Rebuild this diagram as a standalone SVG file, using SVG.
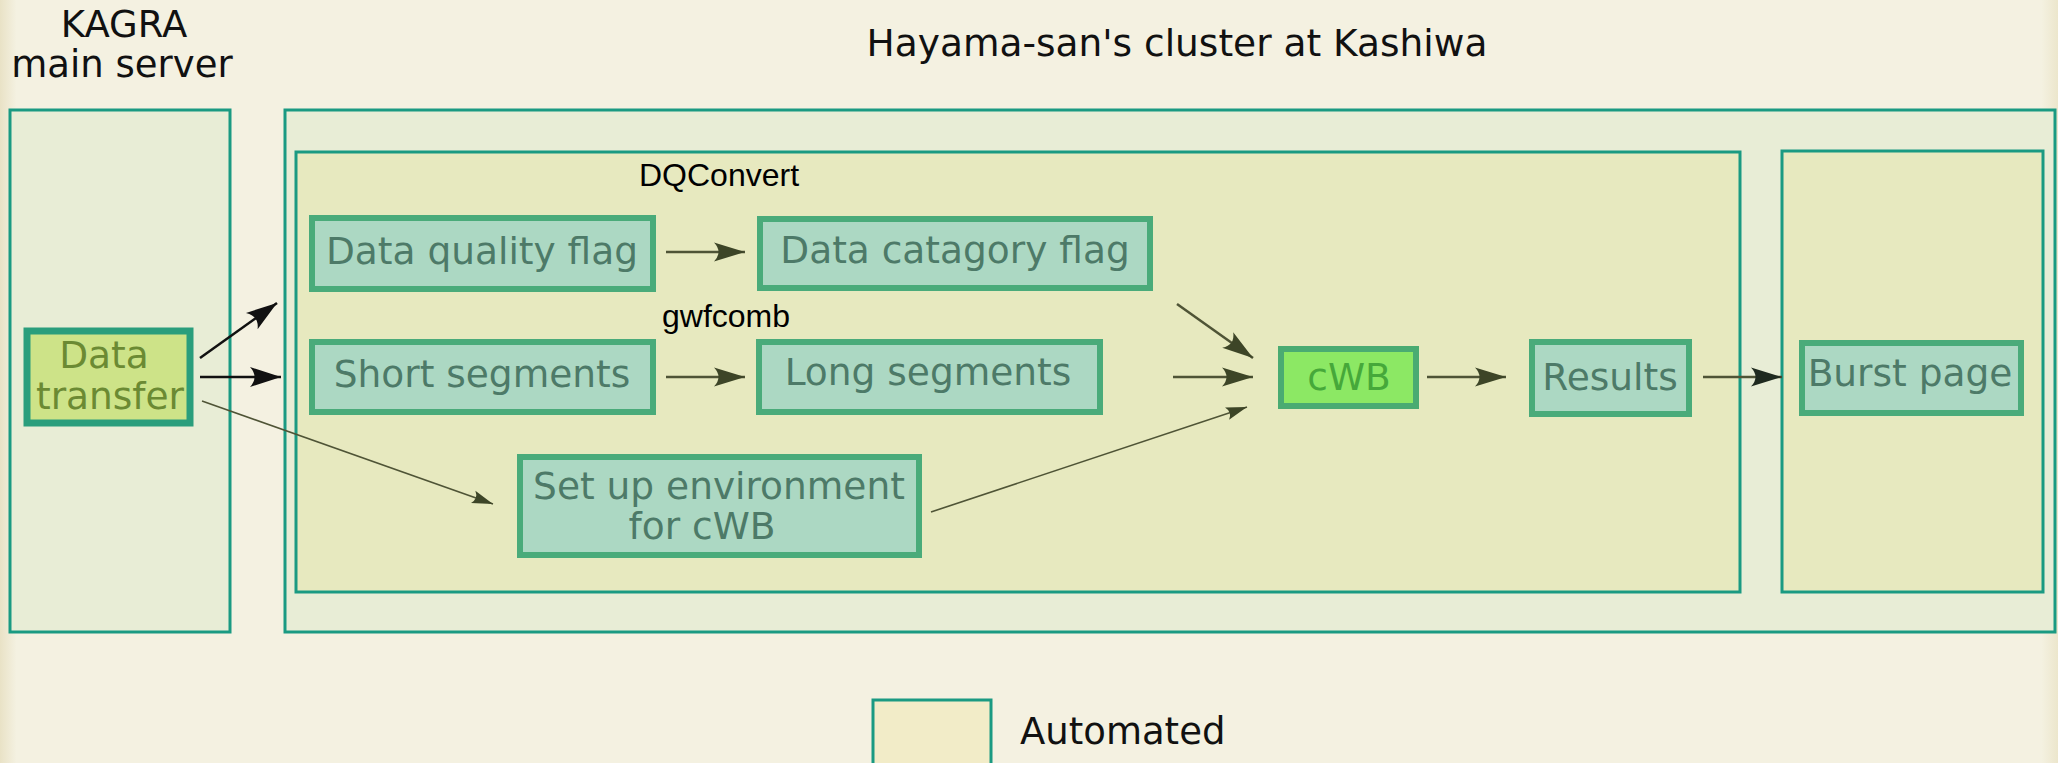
<svg xmlns="http://www.w3.org/2000/svg" width="2058" height="763" viewBox="0 0 2058 763">
<defs>
<style>
.bg-text{font-family:"DejaVu Sans",sans-serif;font-size:37px;fill:#111}
.lbl{font-family:"DejaVu Sans",sans-serif;font-size:37.5px;fill:#4d7a68;text-anchor:middle}
.tag{font-family:"Liberation Sans",Arial,sans-serif;font-size:32px;fill:#000}
.cont{stroke:#1a9a82;stroke-width:3}
.outer{fill:#e8edd6}
.inner{fill:#e7e9bf}
.node{fill:#acd8c3;stroke:#4aab7a;stroke-width:6}
.blk{stroke:#111;stroke-width:2.5;fill:none}
.olv{stroke:#4f5436;stroke-width:2.5;fill:none}
.thin{stroke:#4f5436;stroke-width:1.6;fill:none}
</style>
<linearGradient id="bgg" x1="0" y1="0" x2="1" y2="0">
<stop offset="0" stop-color="#e9e2c6"/>
<stop offset="0.008" stop-color="#f4f1e1"/>
<stop offset="0.992" stop-color="#f4f1e1"/>
<stop offset="1" stop-color="#ece6cc"/>
</linearGradient>
<marker id="ahB" markerUnits="userSpaceOnUse" markerWidth="40" markerHeight="30" refX="0" refY="0" viewBox="-32 -15 40 30" orient="auto" overflow="visible">
<path d="M0,0 L-31,-10 Q-22,0 -31,10 Z" fill="#111"/>
</marker>
<marker id="ahO" markerUnits="userSpaceOnUse" markerWidth="40" markerHeight="30" refX="0" refY="0" viewBox="-32 -15 40 30" orient="auto" overflow="visible">
<path d="M0,0 L-31,-9.5 Q-22,0 -31,9.5 Z" fill="#3d4527"/>
</marker>
<marker id="ahT" markerUnits="userSpaceOnUse" markerWidth="30" markerHeight="20" refX="0" refY="0" viewBox="-24 -10 30 20" orient="auto" overflow="visible">
<path d="M0,0 L-21,-6.5 Q-15.5,0 -21,6.5 Z" fill="#3d4527"/>
</marker>
<marker id="ahD" markerUnits="userSpaceOnUse" markerWidth="40" markerHeight="30" refX="0" refY="0" viewBox="-32 -15 40 30" orient="auto" overflow="visible">
<path d="M0,0 L-31,-9.5 Q-22,0 -31,9.5 Z" fill="#1f2a1f"/>
</marker>
</defs>

<rect x="0" y="0" width="2058" height="763" fill="url(#bgg)"/>

<g id="headings">
<text class="bg-text" x="124" y="37" text-anchor="middle">KAGRA</text>
<text class="bg-text" x="122" y="77" text-anchor="middle">main server</text>
<text class="bg-text" x="1177" y="56" text-anchor="middle" style="font-size:37.5px">Hayama-san's cluster at Kashiwa</text>
</g>

<g id="containers">
<rect id="kagra-box" class="cont outer" x="10" y="110" width="220" height="522"/>
<rect id="cluster-box" class="cont outer" x="285" y="110" width="1770" height="522"/>
<rect id="proc-box" class="cont inner" x="296" y="152" width="1444" height="440"/>
<rect id="burst-box" class="cont inner" x="1782" y="151" width="261" height="441"/>
</g>

<g id="labels">
<text class="tag" x="639" y="186">DQConvert</text>
<text class="tag" x="662" y="327">gwfcomb</text>
</g>

<g id="connectors">
<line class="blk" x1="200" y1="358" x2="277" y2="303" marker-end="url(#ahB)"/>
<line class="blk" x1="200" y1="377" x2="281" y2="377" marker-end="url(#ahB)"/>
<line class="thin" x1="202" y1="401" x2="493" y2="504" marker-end="url(#ahT)"/>
<line class="olv" x1="666" y1="252" x2="745" y2="252" marker-end="url(#ahO)"/>
<line class="olv" x1="666" y1="377" x2="745" y2="377" marker-end="url(#ahO)"/>
<line class="olv" x1="1177" y1="304" x2="1253" y2="358" marker-end="url(#ahO)"/>
<line class="olv" x1="1173" y1="377" x2="1253" y2="377" marker-end="url(#ahO)"/>
<line class="thin" x1="931" y1="512" x2="1247" y2="407" marker-end="url(#ahT)"/>
<line class="olv" x1="1427" y1="377" x2="1506" y2="377" marker-end="url(#ahO)"/>
<line class="olv" x1="1703" y1="377" x2="1782" y2="377" marker-end="url(#ahD)"/>
</g>

<g id="data-transfer">
<rect x="27" y="331" width="163" height="92" fill="#cde388" stroke="#2a9e7c" stroke-width="7"/>
<text class="lbl" x="104" y="368" style="fill:#6b8a33">Data</text>
<text class="lbl" x="110" y="409" style="fill:#6b8a33">transfer</text>
</g>

<g id="dq-flag">
<rect class="node" x="312" y="218" width="341" height="71"/>
<text class="lbl" x="482" y="264">Data quality flag</text>
</g>

<g id="dc-flag">
<rect class="node" x="760" y="219" width="390" height="69"/>
<text class="lbl" x="955" y="263">Data catagory flag</text>
</g>

<g id="short-seg">
<rect class="node" x="312" y="342" width="341" height="70"/>
<text class="lbl" x="482" y="387">Short segments</text>
</g>

<g id="long-seg">
<rect class="node" x="759" y="342" width="341" height="70"/>
<text class="lbl" x="928" y="385">Long segments</text>
</g>

<g id="setup-env">
<rect class="node" x="520" y="457" width="399" height="98"/>
<text class="lbl" x="719" y="499">Set up environment</text>
<text class="lbl" x="702" y="539">for cWB</text>
</g>

<g id="cwb">
<rect x="1281" y="349" width="135" height="57" fill="#8ce864" stroke="#4aab72" stroke-width="6"/>
<text class="lbl" x="1349" y="390" style="fill:#46a83a">cWB</text>
</g>

<g id="results">
<rect class="node" x="1532" y="342" width="157" height="72"/>
<text class="lbl" x="1610" y="390">Results</text>
</g>

<g id="burst-page">
<rect class="node" x="1802" y="343" width="219" height="70"/>
<text class="lbl" x="1910" y="386">Burst page</text>
</g>

<g id="legend">
<rect x="873" y="700" width="118" height="80" fill="#f2ecc8" stroke="#1a9a82" stroke-width="3"/>
<text class="bg-text" x="1020" y="744">Automated</text>
</g>
</svg>
